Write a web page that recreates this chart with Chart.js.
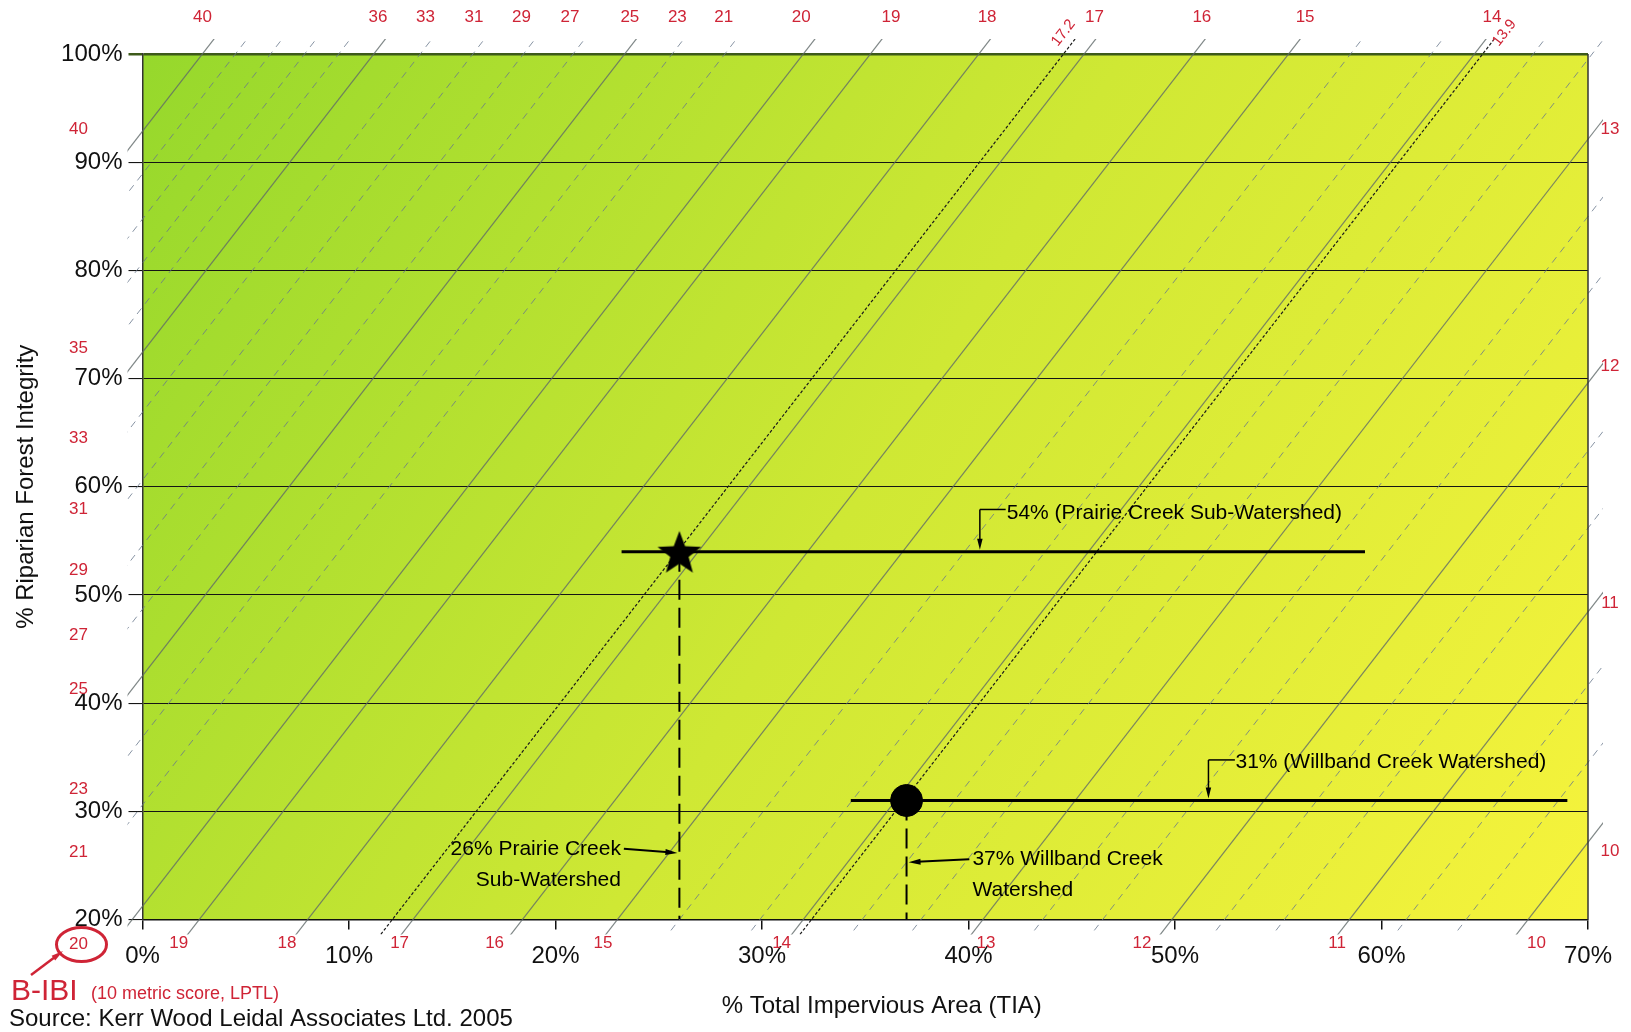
<!DOCTYPE html>
<html>
<head>
<meta charset="utf-8">
<title>B-IBI vs % TIA and % Riparian Forest Integrity</title>
<script src="https://cdn.jsdelivr.net/npm/chart.js@4.4.1/dist/chart.umd.min.js"></script>
<style>
  html, body { margin: 0; padding: 0; background: #fff; }
  #chart { display: block; }
</style>
</head>
<body>
<canvas id="chart" width="1631" height="1032"></canvas>
<script>
// Axis ticks
const xTicks = [0, 10, 20, 30, 40, 50, 60, 70];
const yTicks = [20, 30, 40, 50, 60, 70, 80, 90, 100];

// B-IBI isolines: % TIA where each line meets RFI = 20%, plus line kind
// s = solid, d = dashed, k = black dotted (site lines)
const isoIntercepts = [-29.6, -28.0, -26.3, -24.65, -23.0, -21.3, -19.05, -16.5, -14.05, -11.65, -9.15, -6.85, -4.3, -0.5,
  2.75, 8.0, 12.1, 13.1, 18.4, 23.0, 26.0, 29.9, 32.0, 32.4, 34.85, 37.7, 40.7, 43.6, 46.5, 49.85, 52.4, 55.3, 58.45, 61.2, 64.1, 67.1];
const isoKinds = ['s','d','d','d','d','s','d','d','d','d','s','d','d','s',
  's','s','k','s','s','s','d','d','s','k','d','d','s','d','d','s','d','d','s','d','d','s'];
// RFI rise (%) per 1% TIA along every isoline
const isoSlope = 80 / 32.5;

// B-IBI score labels round the frame
const topLabels = ['40','36','33','31','29','27','25','23','21','20','19','18','17','16','15','14'];
const topLabelTIA = [2.9, 11.4, 13.7, 16.05, 18.35, 20.7, 23.6, 25.9, 28.15, 31.9, 36.25, 40.9, 46.1, 51.3, 56.3, 65.35];
const slantLabels = ['17.2', '13.9'];
const slantLabelTIA = [44.6, 65.95];
const leftLabels = ['40','35','33','31','29','27','25','23','21','20'];
const leftLabelRFI = [93.0, 72.8, 64.5, 57.9, 52.3, 46.3, 41.3, 32.0, 26.2, 17.7];
const bottomLabels = ['19','18','17','16','15','14','13','12','11','10'];
const bottomLabelTIA = [1.75, 7.0, 12.45, 17.05, 22.3, 30.95, 40.85, 48.4, 57.85, 67.5];
const rightLabels = ['13','12','11','10'];
const rightLabelRFI = [93.0, 71.1, 49.2, 26.3];

// Sites
const siteNames = ['Prairie Creek Sub-Watershed', 'Willband Creek Watershed'];
const siteTIA = [26, 37];
const siteRFI = [54, 31];
const siteRangeLow = [23.2, 34.3];
const siteRangeHigh = [59.2, 69.0];

// star marker image
function makeStar(r) {
    const c = document.createElement('canvas');
    c.width = c.height = Math.ceil(r * 2 + 4);
    const g = c.getContext('2d');
    const cx = c.width / 2, cy = c.height / 2 + r * 0.1;
    g.beginPath();
    for (let i = 0; i < 10; i++) {
        const rad = i % 2 ? r * 0.42 : r;
        const a = -Math.PI / 2 + i * Math.PI / 5;
        g.lineTo(cx + rad * Math.cos(a), cy + rad * Math.sin(a));
    }
    g.closePath();
    g.fillStyle = '#000';
    g.fill();
    return c;
}

function drawArrow(ctx, x1, y1, x2, y2, size, width) {
    const a = Math.atan2(y2 - y1, x2 - x1);
    ctx.lineWidth = width;
    ctx.beginPath();
    ctx.moveTo(x1, y1);
    ctx.lineTo(x2 - Math.cos(a) * size * 0.7, y2 - Math.sin(a) * size * 0.7);
    ctx.stroke();
    ctx.beginPath();
    ctx.moveTo(x2, y2);
    ctx.lineTo(x2 - size * Math.cos(a) + size * 0.25 * Math.sin(a), y2 - size * Math.sin(a) - size * 0.25 * Math.cos(a));
    ctx.lineTo(x2 - size * Math.cos(a) - size * 0.25 * Math.sin(a), y2 - size * Math.sin(a) + size * 0.25 * Math.cos(a));
    ctx.closePath();
    ctx.fill();
}

const FONT = "'Liberation Sans', Arial, sans-serif";
const RED = '#cf2436';

const isoStyles = {
    s: { color: 'rgba(95,105,105,0.8)', width: 1.2, dash: [] },
    d: { color: 'rgba(105,120,140,0.8)', width: 1, dash: [7, 6] },
    k: { color: '#1a1a1a', width: 1.2, dash: [3, 2] }
};

const isoDatasets = isoIntercepts.map((b, i) => {
    const st = isoStyles[isoKinds[i]];
    return {
        data: [{ x: b - 20 / isoSlope, y: 0 }, { x: b + 100 / isoSlope, y: 120 }],
        showLine: true,
        pointRadius: 0,
        borderColor: st.color,
        borderWidth: st.width,
        borderDash: st.dash,
        clip: 15,
        order: 10
    };
});

const siteDatasets = [];
siteNames.forEach((name, i) => {
    // range bar
    siteDatasets.push({
        data: [{ x: siteRangeLow[i], y: siteRFI[i] }, { x: siteRangeHigh[i], y: siteRFI[i] }],
        showLine: true, pointRadius: 0, borderColor: '#000', borderWidth: 3, order: 3
    });
    // drop line to the TIA axis
    siteDatasets.push({
        data: [{ x: siteTIA[i], y: siteRFI[i] }, { x: siteTIA[i], y: 20 }],
        showLine: true, pointRadius: 0, borderColor: '#000', borderWidth: 2, borderDash: [20, 8], order: 3
    });
});
siteDatasets.push({
    data: [{ x: siteTIA[0], y: siteRFI[0] }],
    pointStyle: makeStar(23), pointRadius: 23, order: 1
});
siteDatasets.push({
    data: [{ x: siteTIA[1], y: siteRFI[1] }],
    pointStyle: 'circle', pointRadius: 16, backgroundColor: '#000', borderColor: '#000', order: 1
});

const overlay = {
    id: 'overlay',
    beforeDraw(chart) {
        const { ctx, chartArea: a } = chart;
        const g = ctx.createLinearGradient(a.left, a.top, a.right, a.bottom);
        g.addColorStop(0, 'rgb(150,216,44)');
        g.addColorStop(0.5, 'rgb(207,232,52)');
        g.addColorStop(1, 'rgb(246,243,60)');
        ctx.save();
        ctx.fillStyle = g;
        ctx.fillRect(a.left, a.top, a.right - a.left, a.bottom - a.top);
        ctx.restore();
    },
    afterDraw(chart) {
        const { ctx, chartArea: a, scales: { x, y } } = chart;
        ctx.save();

        // right frame
        ctx.strokeStyle = '#333';
        ctx.lineWidth = 1.5;
        ctx.beginPath();
        ctx.moveTo(a.right, a.top);
        ctx.lineTo(a.right, a.bottom);
        ctx.stroke();

        // x axis title
        ctx.fillStyle = '#111';
        ctx.textAlign = 'center';
        ctx.textBaseline = 'middle';
        ctx.font = '24px ' + FONT;
        ctx.fillText('% Total Impervious Area (TIA)', x.getPixelForValue(35.8), a.bottom + 87);

        // score labels
        ctx.fillStyle = RED;
        ctx.font = '17px ' + FONT;
        topLabels.forEach((t, i) => ctx.fillText(t, x.getPixelForValue(topLabelTIA[i]), a.top - 37));
        bottomLabels.forEach((t, i) => ctx.fillText(t, x.getPixelForValue(bottomLabelTIA[i]), a.bottom + 24));
        leftLabels.forEach((t, i) => ctx.fillText(t, a.left - 64, y.getPixelForValue(leftLabelRFI[i])));
        rightLabels.forEach((t, i) => ctx.fillText(t, a.right + 22, y.getPixelForValue(rightLabelRFI[i])));
        ctx.font = '15px ' + FONT;
        slantLabels.forEach((t, i) => {
            ctx.save();
            ctx.translate(x.getPixelForValue(slantLabelTIA[i]), a.top - 21);
            ctx.rotate(-52 * Math.PI / 180);
            ctx.fillText(t, 0, 0);
            ctx.restore();
        });

        // B-IBI legend note
        const cx = a.left - 61, cy = a.bottom + 25;
        ctx.strokeStyle = RED;
        ctx.lineWidth = 3;
        ctx.beginPath();
        ctx.ellipse(cx, cy, 25, 17, 0, 0, Math.PI * 2);
        ctx.stroke();
        drawArrow(ctx, 31, 975, 63, 951, 12, 2.5);
        ctx.textAlign = 'left';
        ctx.font = '30px ' + FONT;
        ctx.fillText('B-IBI', 11, 992);
        ctx.font = '18px ' + FONT;
        ctx.fillText('(10 metric score, LPTL)', 91, 994);
        ctx.fillStyle = '#111';
        ctx.font = '24px ' + FONT;
        ctx.fillText('Source: Kerr Wood Leidal Associates Ltd. 2005', 9, 1019);

        // site callouts
        ctx.strokeStyle = '#000';
        ctx.fillStyle = '#000';
        ctx.font = '21px ' + FONT;

        // 54% Prairie Creek range
        let ty = y.getPixelForValue(57.6);
        let lx = x.getPixelForValue(40.55);
        ctx.lineWidth = 1.5;
        ctx.beginPath();
        ctx.moveTo(x.getPixelForValue(41.8), y.getPixelForValue(57.9));
        ctx.lineTo(lx, y.getPixelForValue(57.9));
        ctx.stroke();
        drawArrow(ctx, lx, y.getPixelForValue(57.9), lx, y.getPixelForValue(siteRFI[0]) - 2, 11, 1.5);
        ctx.fillText('54% (' + siteNames[0] + ')', x.getPixelForValue(41.85), ty);

        // 31% Willband Creek range
        ty = y.getPixelForValue(34.5);
        lx = x.getPixelForValue(51.62);
        ctx.beginPath();
        ctx.moveTo(x.getPixelForValue(52.9), y.getPixelForValue(34.75));
        ctx.lineTo(lx, y.getPixelForValue(34.75));
        ctx.stroke();
        drawArrow(ctx, lx, y.getPixelForValue(34.75), lx, y.getPixelForValue(siteRFI[1]) - 2, 11, 1.5);
        ctx.fillText('31% (' + siteNames[1] + ')', x.getPixelForValue(52.93), ty);

        // 26% Prairie Creek TIA
        ctx.textAlign = 'right';
        ctx.fillText('26% Prairie Creek', x.getPixelForValue(23.17), y.getPixelForValue(26.53));
        ctx.fillText('Sub-Watershed', x.getPixelForValue(23.17), y.getPixelForValue(23.65));
        drawArrow(ctx, x.getPixelForValue(23.31), y.getPixelForValue(26.53), x.getPixelForValue(siteTIA[0]) - 2, y.getPixelForValue(26.15), 12, 2);

        // 37% Willband Creek TIA
        ctx.textAlign = 'left';
        ctx.fillText('37% Willband Creek', x.getPixelForValue(40.19), y.getPixelForValue(25.57));
        ctx.fillText('Watershed', x.getPixelForValue(40.19), y.getPixelForValue(22.69));
        drawArrow(ctx, x.getPixelForValue(40.04), y.getPixelForValue(25.57), x.getPixelForValue(siteTIA[1]) + 2, y.getPixelForValue(25.29), 12, 2);

        ctx.restore();
    }
};

Chart.defaults.font.family = FONT;

const chart = new Chart(document.getElementById('chart'), {
    type: 'scatter',
    data: { datasets: [...siteDatasets, ...isoDatasets] },
    options: {
        responsive: false,
        animation: false,
        events: [],
        layout: { padding: { top: 54, right: 43, left: 0, bottom: 0 } },
        plugins: { legend: { display: false }, tooltip: { enabled: false } },
        scales: {
            x: {
                type: 'linear', min: 0, max: 70,
                afterFit: s => { s.height = 112.5; },
                afterBuildTicks: s => { s.ticks = xTicks.map(v => ({ value: v })); },
                ticks: { callback: v => v + '%', font: { size: 24 }, color: '#111', padding: 12, maxRotation: 0, autoSkip: false },
                grid: { drawOnChartArea: false, tickLength: 10, color: '#111', lineWidth: 1.5 },
                border: { display: true, color: '#111', width: 1.5 }
            },
            y: {
                type: 'linear', min: 20, max: 100,
                afterFit: s => { s.width = 142.5; },
                afterBuildTicks: s => { s.ticks = yTicks.map(v => ({ value: v })); },
                ticks: { callback: v => v + '%', font: { size: 24 }, color: '#111', padding: 6, autoSkip: false },
                grid: {
                    color: c => c.tick && c.tick.value === 100 ? '#3d5a1a' : '#151515',
                    lineWidth: c => c.tick && c.tick.value === 100 ? 2.5 : 1.1,
                    tickLength: 14
                },
                border: { display: true, color: '#333', width: 1.5 },
                title: { display: true, text: '% Riparian Forest Integrity', font: { size: 24 }, color: '#111', padding: { top: 12, bottom: 0 } }
            }
        }
    },
    plugins: [overlay]
});
</script>
</body>
</html>
